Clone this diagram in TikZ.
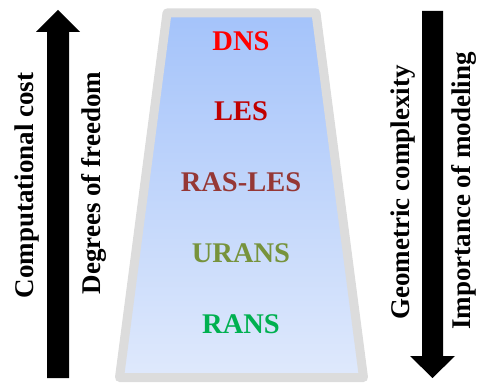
\documentclass[tikz,border=0pt]{standalone}
\usepackage{fontspec}
\setmainfont{Liberation Serif}
\definecolor{dnsred}{RGB}{255,0,0}
\definecolor{lesred}{RGB}{192,0,0}
\definecolor{raslesc}{RGB}{149,55,53}
\definecolor{uransc}{RGB}{119,147,60}
\definecolor{ransc}{RGB}{0,176,80}
\definecolor{topblue}{RGB}{164,195,250}
\definecolor{botblue}{RGB}{223,233,252}
\definecolor{bordergray}{RGB}{220,220,220}
\begin{document}
\begin{tikzpicture}[x=1pt,y=-1pt,
  level/.style={anchor=base,inner sep=0pt,font=\fontsize{28.5}{30}\selectfont\bfseries},
  side/.style={anchor=base,inner sep=0pt,rotate=90,font=\fontsize{27}{29}\selectfont\bfseries},
  bigarrow/.style={fill=black,draw=none}]
\useasboundingbox (0,0) rectangle (477,385);
% trapezoid
\path[top color=topblue,bottom color=botblue,draw=bordergray,line width=9pt,line join=round]
  (167,13) -- (316,13) -- (363.5,377.5) -- (119.5,377.5) -- cycle;
% left arrow (up)
\path[bigarrow] (58,10) -- (80,32) -- (69,32) -- (69,378) -- (47,378) -- (47,32) -- (36,32) -- cycle;
% right arrow (down)
\path[bigarrow] (422,11) -- (443,11) -- (443,356) -- (455,356) -- (432.5,378) -- (410,356) -- (422,356) -- cycle;
% levels
\node[level,text=dnsred] (dns) at (241,51) {DNS};
\node[level,text=lesred] (les) at (241,121) {LES};
\node[level,text=raslesc] (rasles) at (241,192) {RAS-LES};
\node[level,text=uransc] (urans) at (241,262) {URANS};
\node[level,text=ransc] (rans) at (241,333) {RANS};
% side labels
\node[side] (cost) at (33,185.5) {Computational cost};
\node[side] (dof) at (100,183) {Degrees of freedom};
\node[side] (geo) at (409,192.5) {Geometric complexity};
\node[side] (imp) at (470.5,191) {Importance of modeling};
\end{tikzpicture}
\end{document}
